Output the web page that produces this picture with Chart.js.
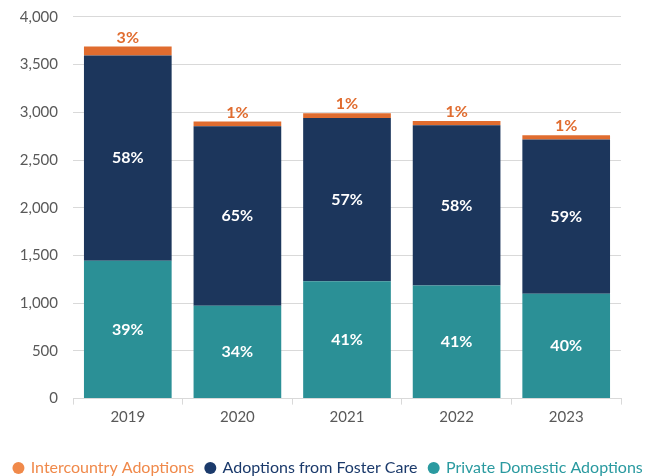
<!DOCTYPE html>
<html>
<head>
<meta charset="utf-8">
<script src="https://cdn.jsdelivr.net/npm/chart.js@4"></script>
<style>
  html, body { margin: 0; padding: 0; background: #fff; }
  #wrap { width: 657px; height: 476px; }
</style>
</head>
<body>
<div id="wrap"><canvas id="adoptionsChart" width="657" height="476"></canvas></div>
<script>
// Adoptions by type, 2019-2023
const years = ['2019', '2020', '2021', '2022', '2023'];
const privateDomestic = [1445, 973, 1230, 1185, 1100];
const fosterCare = [2150, 1880, 1710, 1680, 1615];
const intercountry = [95, 50, 50, 45, 45];
const privatePct = ['39%', '34%', '41%', '41%', '40%'];
const fosterPct = ['58%', '65%', '57%', '58%', '59%'];
const intercountryPct = ['3%', '1%', '1%', '1%', '1%'];
const yTicks = [0, 500, 1000, 1500, 2000, 2500, 3000, 3500, 4000];

const FONT = 'Lato, "Open Sans", sans-serif';

// draws the percentage labels on / above each segment
const pctLabels = {
  id: 'pctLabels',
  afterDatasetsDraw(chart) {
    const ctx = chart.ctx;
    const sets = [privatePct, fosterPct, intercountryPct];
    ctx.save();
    ctx.font = 'bold 16px ' + FONT;
    ctx.textAlign = 'center';
    chart.data.datasets.forEach((ds, i) => {
      const meta = chart.getDatasetMeta(i);
      meta.data.forEach((bar, j) => {
        if (i < 2) {
          ctx.fillStyle = '#ffffff';
          ctx.textBaseline = 'middle';
          ctx.fillText(sets[i][j], bar.x, (bar.y + bar.base) / 2);
        } else {
          ctx.fillStyle = '#e06c2f';
          ctx.textBaseline = 'bottom';
          ctx.fillText(sets[i][j], bar.x, bar.y - 1);
        }
      });
    });
    ctx.restore();
  }
};

const legendColors = ['#2a9aa0', '#1b3a6b', '#f0894a'];

new Chart(document.getElementById('adoptionsChart'), {
  type: 'bar',
  data: {
    labels: years,
    datasets: [
      { label: 'Private Domestic Adoptions', data: privateDomestic, backgroundColor: '#2b9096' },
      { label: 'Adoptions from Foster Care', data: fosterCare, backgroundColor: '#1c365c' },
      { label: 'Intercountry Adoptions', data: intercountry, backgroundColor: '#e06c2f' }
    ]
  },
  options: {
    responsive: false,
    animation: false,
    barPercentage: 0.8,
    categoryPercentage: 1.0,
    layout: { padding: { top: 0, right: 0, left: 0, bottom: -10 } },
    plugins: {
      legend: {
        position: 'bottom',
        reverse: true,
        title: { display: true, text: '', padding: { top: 3, bottom: 0 } },
        labels: {
          usePointStyle: true,
          pointStyle: 'circle',
          boxWidth: 8.5,
          boxHeight: 8.5,
          padding: 12,
          font: { family: FONT, size: 16 },
          generateLabels(chart) {
            return chart.data.datasets.map((ds, i) => ({
              text: ds.label,
              fillStyle: legendColors[i],
              strokeStyle: legendColors[i],
              lineWidth: 0,
              fontColor: legendColors[i],
              pointStyle: 'circle',
              datasetIndex: i
            }));
          }
        }
      },
      tooltip: { enabled: false }
    },
    scales: {
      x: {
        stacked: true,
        grid: { display: true, drawOnChartArea: false, offset: true, tickLength: 6, color: '#d9d9d9' },
        border: { display: true, color: '#d9d9d9' },
        ticks: { color: '#595959', font: { family: FONT, size: 15 }, padding: 4 }
      },
      y: {
        stacked: true,
        min: 0,
        max: 4000,
        afterBuildTicks(axis) { axis.ticks = yTicks.map(v => ({ value: v })); },
        afterFit(axis) { axis.width = 73; },
        grid: { color: '#d9d9d9', drawTicks: false, lineWidth: 1 },
        border: { display: false },
        ticks: {
          color: '#595959',
          font: { family: FONT, size: 15, lineHeight: 0.25 },
          padding: 15,
          callback: v => v.toLocaleString('en-US')
        }
      },
      // empty right-hand axis, only used to keep a margin right of the bars
      yRight: {
        position: 'right',
        display: true,
        grid: { display: false },
        border: { display: false },
        ticks: { display: false },
        afterFit(axis) { axis.width = 36; }
      }
    }
  },
  plugins: [pctLabels]
});
</script>
</body>
</html>
